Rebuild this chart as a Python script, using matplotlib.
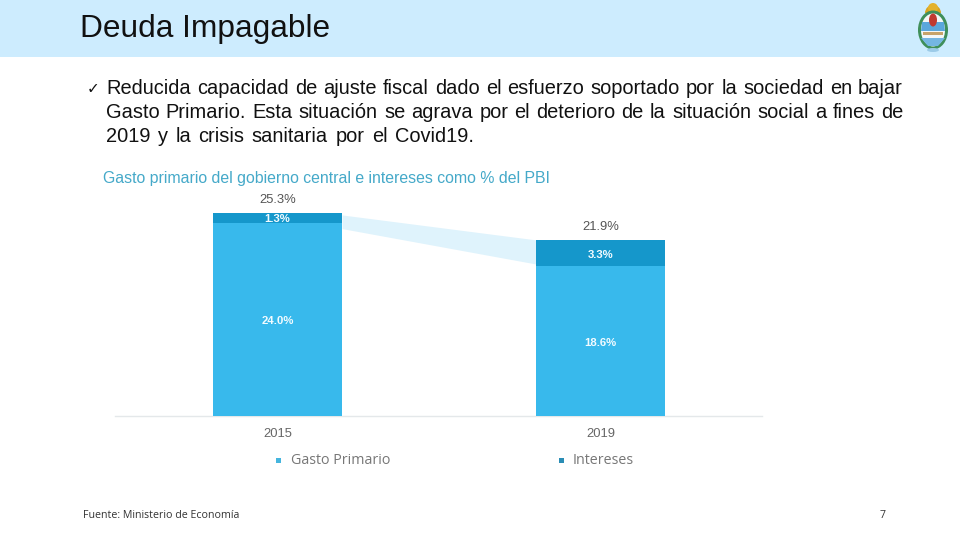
import matplotlib
matplotlib.use("Agg")
import matplotlib.pyplot as plt
from matplotlib.patches import Ellipse, Rectangle, Wedge, Polygon

# Data
years = ["2015", "2019"]
gasto = [24.0, 18.6]
intereses = [1.3, 3.3]
totales = [25.3, 21.9]
gasto_labels = ["24.0%", "18.6%"]
intereses_labels = ["1.3%", "3.3%"]
total_labels = ["25.3%", "21.9%"]
# connector band between the bars
band_top = [25.0, 21.9]
band_bottom = [23.3, 18.9]

titulo = "Deuda Impagable"
bullet_lines = [
    "Reducida capacidad de ajuste fiscal dado el esfuerzo soportado por la sociedad en bajar",
    "Gasto Primario. Esta situación se agrava por el deterioro de la situación social a fines de",
    "2019 y la crisis sanitaria por el Covid19.",
]
subtitulo = "Gasto primario del gobierno central e intereses como % del PBI"
fuente = "Fuente: Ministerio de Economía"
pagina = "7"

C_GASTO = "#38b9ec"
C_INT = "#1597cb"
C_BAND = "#dff3fc"
C_HEADER = "#cdecfe"

plt.rcParams["font.family"] = ["Liberation Sans", "DejaVu Sans"]

fig = plt.figure(figsize=(9.6, 5.4), dpi=100)

# Page layer in pixel coordinates
page = fig.add_axes([0, 0, 1, 1])
page.set_xlim(0, 960)
page.set_ylim(540, 0)
page.axis("off")
page.add_patch(Rectangle((0, 0), 960, 57, color=C_HEADER, lw=0))
page.text(80, 28.5, titulo, fontsize=22.8, color="#111111", va="center", ha="left")


def justified(y, text, left, right, stretch=True):
    # Word by word so both margins line up, like the slide text
    words = text.split(" ")
    renderer = fig.canvas.get_renderer()
    arts = [page.text(0, y, w, fontsize=14.4, color="#111111", va="center") for w in words]
    widths = [a.get_window_extent(renderer).width for a in arts]
    gap = (right - left - sum(widths)) / (len(words) - 1) if stretch else 7.4
    x = left
    for a, w in zip(arts, widths):
        a.set_x(x)
        x += w + gap


page.text(87, 89, "\u2713", fontsize=11, color="#111111", va="center", ha="left",
          family=["DejaVu Sans"])
justified(89, bullet_lines[0], 106, 903)
justified(113, bullet_lines[1], 106, 903)
justified(137, bullet_lines[2], 106, 903, stretch=False)

page.text(103, 179, subtitulo, fontsize=11.4, color="#45a9c9", va="center", ha="left")

# Legend
page.add_patch(Rectangle((276, 458), 5, 5, color="#45b5de", lw=0))
page.text(291, 461, "Gasto Primario", fontsize=10.3, color="#777777", va="center",
          family=["Open Sans"])
page.add_patch(Rectangle((559, 458), 5, 5, color="#2a8db5", lw=0))
page.text(573, 460, "Intereses", fontsize=10.3, color="#777777", va="center",
          family=["Open Sans"])

page.text(83, 515, fuente, fontsize=7.7, color="#333333", va="center", family=["Open Sans"])
page.text(883, 515, pagina, fontsize=7.7, color="#333333", va="center", ha="center",
          family=["Open Sans"])

# Coat of arms, small sketch
page.add_patch(Wedge((933, 13), 8, 180, 360, color="#d9a520", lw=0))
page.add_patch(Ellipse((933, 8), 10, 10, color="#e3b22c", lw=0))
page.add_patch(Ellipse((933, 30), 30, 39, color="#3f8f5a", lw=0))
page.add_patch(Ellipse((933, 30), 24, 33, color="#f4f7f8", lw=0))
page.add_patch(Polygon([(922, 22), (944, 22), (945, 31), (921, 31)], color="#5aa7dc", lw=0))
page.add_patch(Polygon([(921, 38), (945, 38), (938, 46), (928, 46)], color="#74b6e2", lw=0))
page.add_patch(Ellipse((933, 20), 8, 13, color="#c03a30", lw=0))
page.add_patch(Rectangle((923, 32), 20, 3, color="#c7a36a", lw=0))
page.add_patch(Ellipse((933, 50), 12, 4, color="#9ccbe8", lw=0))

# Chart: baseline at y=416, about 8 px per percentage point
ax = fig.add_axes([115 / 960, (540 - 416) / 540, (762 - 115) / 960, 226 / 540])
ax.patch.set_alpha(0)
ax.set_xlim(-0.503, 1.5)
ax.set_ylim(0, 28.1)
pos = [0, 1]
w = 0.4

ax.bar(pos, gasto, width=w, color=C_GASTO, zorder=3)
ax.bar(pos, intereses, width=w, bottom=gasto, color=C_INT, zorder=3)
ax.fill_between([pos[0] + w / 2, pos[1] - w / 2], band_bottom, band_top, color=C_BAND, lw=0, zorder=1)

total_offsets = [1.5, 1.55]
for i in pos:
    ax.text(i, gasto[i] / 2 - 0.22, gasto_labels[i], ha="center", va="center",
            color="#f2fbff", fontsize=8.2, fontweight="bold", zorder=4)
    ax.text(i, gasto[i] + intereses[i] / 2 - 0.18, intereses_labels[i], ha="center", va="center",
            color="#f2fbff", fontsize=8.2, fontweight="bold", zorder=4)
    ax.text(i, totales[i] + total_offsets[i], total_labels[i], ha="center", va="center",
            color="#555555", fontsize=9.4, zorder=4)

ax.set_xticks(pos)
ax.set_xticklabels(years, fontsize=9.4, color="#666666")
ax.tick_params(axis="x", length=0, pad=8.5)
ax.set_yticks([])
for s in ["top", "left", "right"]:
    ax.spines[s].set_visible(False)
ax.spines["bottom"].set_color("#e4e8ea")
ax.spines["bottom"].set_linewidth(1)

fig.savefig("out.png", dpi=100)
